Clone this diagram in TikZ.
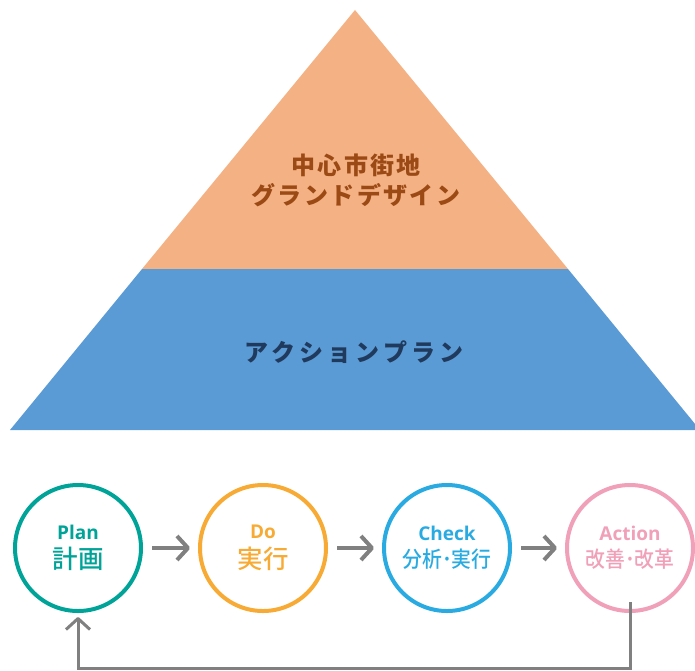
\documentclass[tikz,border=0pt]{standalone}
\usepackage{fontspec}
\usetikzlibrary{arrows.meta}
\newfontfamily\jp{Noto Sans CJK JP Medium}
\newfontfamily\jpn{Noto Sans CJK JP Medium}[FakeStretch=0.9]
\newfontfamily\jpwide{Noto Sans CJK JP}[LetterSpace=10]
\newfontfamily\jpwider{Noto Sans CJK JP}[LetterSpace=17]
\newfontfamily\lat{Open Sans}
\definecolor{pyrtop}{HTML}{F4B183}
\definecolor{pyrbot}{HTML}{5B9BD5}
\definecolor{browntxt}{HTML}{9C4A15}
\definecolor{navytxt}{HTML}{1F3A5C}
\definecolor{cplan}{HTML}{00A398}
\definecolor{cdo}{HTML}{F7AB35}
\definecolor{ccheck}{HTML}{29ABE2}
\definecolor{cact}{HTML}{F0A0B9}
\definecolor{arrgray}{HTML}{808080}
\tikzset{
  cyc/.style={circle, draw=#1, text=#1, line width=4pt, minimum size=126pt, inner sep=0pt, align=center},
  flow/.style={draw=arrgray, line width=4pt, -{Straight Barb[length=11pt,width=24pt,line join=round]}},
  back/.style={draw=arrgray, line width=3pt, -{Straight Barb[length=11pt,width=24pt,line join=round]}},
}
\begin{document}
\begin{tikzpicture}[x=1pt,y=-1pt]
\useasboundingbox (0,0) rectangle (695,670);
% pyramid
\fill[pyrtop] (355,10) -- (142,269) -- (568,269) -- cycle;
\fill[pyrbot] (142,269) -- (10,430) -- (700,430) -- (568,269) -- cycle;
\node[text=browntxt, align=center, font=\jpwide\bfseries\fontsize{24}{30}\selectfont] (top) at (356,180) {中心市街地\\グランドデザイン};
\node[text=navytxt, font=\jpwider\bfseries\fontsize{24}{30}\selectfont] (bot) at (354,352) {アクションプラン};
% PDCA
\node[cyc=cplan] (p) at (78,548) {{\lat\bfseries\fontsize{19}{22}\selectfont Plan}\\[7pt]{\jp\fontsize{25.5}{26}\selectfont 計画}};
\node[cyc=cdo] (d) at (263,548) {{\lat\bfseries\fontsize{19}{22}\selectfont Do}\\[7pt]{\jp\fontsize{25.5}{26}\selectfont 実行}};
\node[cyc=ccheck] (c) at (447,548) {{\lat\bfseries\fontsize{19}{22}\selectfont Check}\\[7pt]{\jpn\fontsize{22}{24}\selectfont 分析･実行}};
\node[cyc=cact] (a) at (630,548) {{\lat\bfseries\fontsize{19}{22}\selectfont Action}\\[7pt]{\jpn\fontsize{22}{24}\selectfont 改善･改革}};
\draw[flow] ([xshift=9pt]p.east) -- ([xshift=-8pt]d.west);
\draw[flow] ([xshift=9pt]d.east) -- ([xshift=-8pt]c.west);
\draw[flow] ([xshift=9pt]c.east) -- ([xshift=-8pt]a.west);
\coordinate (fb0) at ([yshift=11pt]a.south);
\coordinate (fb1) at ([yshift=-4pt]p.south);
\draw[back] (fb0) -- (fb0 |- 0,668) -- (fb1 |- 0,668) -- (fb1);
\end{tikzpicture}
\end{document}
